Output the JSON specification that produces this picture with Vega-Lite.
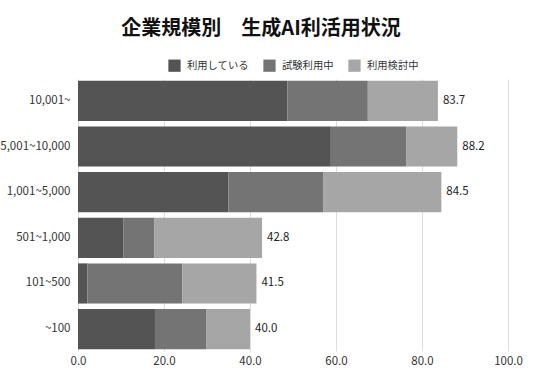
{
  "$schema": "https://vega.github.io/schema/vega-lite/v6.json",
  "width": 430,
  "height": 272,
  "autosize": "none",
  "padding": {"left": 78, "top": 79, "right": 28, "bottom": 28},
  "background": "white",
  "config": {
    "font": "Noto Sans CJK JP",
    "view": {"stroke": null}
  },
  "title": {
    "text": "企業規模別　生成AI利活用状況",
    "fontSize": 20,
    "fontWeight": "bold",
    "color": "#111111",
    "anchor": "middle",
    "frame": "bounds",
    "offset": 20,
    "dx": 0
  },
  "data": {
    "values": [
      {"size": "10,001~", "series": "利用している", "k": 1, "value": 48.7},
      {"size": "10,001~", "series": "試験利用中", "k": 2, "value": 18.7},
      {"size": "10,001~", "series": "利用検討中", "k": 3, "value": 16.3},
      {"size": "5,001~10,000", "series": "利用している", "k": 1, "value": 58.8},
      {"size": "5,001~10,000", "series": "試験利用中", "k": 2, "value": 17.6},
      {"size": "5,001~10,000", "series": "利用検討中", "k": 3, "value": 11.8},
      {"size": "1,001~5,000", "series": "利用している", "k": 1, "value": 35.0},
      {"size": "1,001~5,000", "series": "試験利用中", "k": 2, "value": 22.0},
      {"size": "1,001~5,000", "series": "利用検討中", "k": 3, "value": 27.5},
      {"size": "501~1,000", "series": "利用している", "k": 1, "value": 10.6},
      {"size": "501~1,000", "series": "試験利用中", "k": 2, "value": 7.2},
      {"size": "501~1,000", "series": "利用検討中", "k": 3, "value": 25.0},
      {"size": "101~500", "series": "利用している", "k": 1, "value": 2.2},
      {"size": "101~500", "series": "試験利用中", "k": 2, "value": 22.1},
      {"size": "101~500", "series": "利用検討中", "k": 3, "value": 17.2},
      {"size": "~100", "series": "利用している", "k": 1, "value": 17.9},
      {"size": "~100", "series": "試験利用中", "k": 2, "value": 12.0},
      {"size": "~100", "series": "利用検討中", "k": 3, "value": 10.1}
    ]
  },
  "encoding": {
    "y": {
      "field": "size",
      "type": "nominal",
      "sort": ["10,001~", "5,001~10,000", "1,001~5,000", "501~1,000", "101~500", "~100"],
      "scale": {"paddingInner": 0.12, "paddingOuter": 0.04},
      "axis": {
        "title": null,
        "domain": false,
        "ticks": false,
        "labelFontSize": 11.5,
        "labelColor": "#333333",
        "labelPadding": 8,
        "labelFont": "Noto Sans CJK JP"
      }
    }
  },
  "layer": [
    {
      "mark": {"type": "bar", "stroke": null},
      "encoding": {
        "x": {
          "field": "value",
          "type": "quantitative",
          "stack": "zero",
          "scale": {"domain": [0, 100], "nice": false},
          "axis": {
            "title": null,
            "values": [0, 20, 40, 60, 80, 100],
            "format": ".1f",
            "domain": false,
            "ticks": false,
            "grid": true,
            "gridColor": "#dddddd",
            "labelFlush": false,
            "labelFontSize": 11.5,
            "labelColor": "#333333",
            "labelPadding": 4,
            "labelFont": "Noto Sans CJK JP"
          }
        },
        "color": {
          "field": "series",
          "type": "nominal",
          "scale": {
            "domain": ["利用している", "試験利用中", "利用検討中"],
            "range": ["#545454", "#747474", "#a6a6a6"]
          },
          "legend": {
            "title": null,
            "orient": "none",
            "direction": "horizontal",
            "legendX": 90,
            "legendY": -20,
            "symbolType": "square",
            "symbolSize": 150,
            "symbolStrokeWidth": 0,
            "labelFontSize": 10.3,
            "labelColor": "#333333",
            "labelFont": "Noto Sans CJK JP",
            "columnPadding": 14,
            "labelOffset": 6
          }
        },
        "order": {"field": "k", "type": "quantitative"}
      }
    },
    {
      "transform": [
        {"aggregate": [{"op": "sum", "field": "value", "as": "total"}], "groupby": ["size"]}
      ],
      "mark": {"type": "text", "align": "left", "dx": 5, "fontSize": 11.5, "color": "#222222", "font": "Noto Sans CJK JP"},
      "encoding": {
        "x": {"field": "total", "type": "quantitative"},
        "text": {"field": "total", "type": "quantitative", "format": ".1f"}
      }
    }
  ]
}
